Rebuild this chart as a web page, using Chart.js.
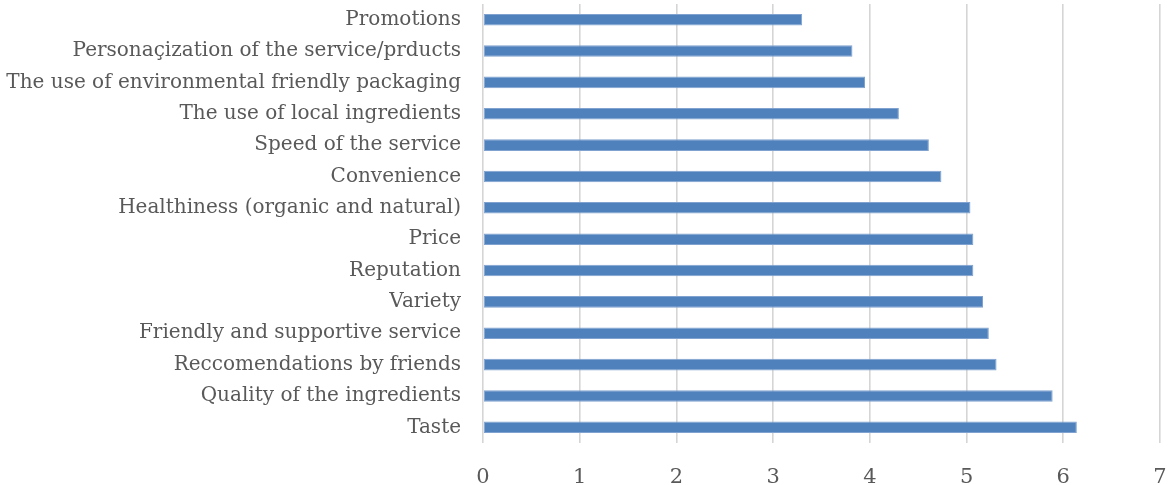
<!DOCTYPE html>
<html>
<head>
<meta charset="utf-8">
<script src="https://cdn.jsdelivr.net/npm/chart.js@4/dist/chart.umd.min.js"></script>
<style>
  html, body { margin: 0; padding: 0; background: #fff; overflow: hidden; }
  canvas { display: block; }
</style>
</head>
<body>
<canvas id="myChart" width="1168" height="485"></canvas>
<script>
const factors = [
  'Promotions',
  'Personaçization of the service/prducts',
  'The use of environmental friendly packaging',
  'The use of local ingredients',
  'Speed of the service',
  'Convenience',
  'Healthiness (organic and natural)',
  'Price',
  'Reputation',
  'Variety',
  'Friendly and supportive service',
  'Reccomendations by friends',
  'Quality of the ingredients',
  'Taste'
];
const scores = [3.30, 3.82, 3.95, 4.30, 4.61, 4.74, 5.04, 5.07, 5.07, 5.17, 5.23, 5.31, 5.89, 6.14];
const xTicks = [0, 1, 2, 3, 4, 5, 6, 7];

const ctx = document.getElementById('myChart').getContext('2d');
const myChart = new Chart(ctx, {
  type: 'bar',
  data: {
    labels: factors,
    datasets: [{
      data: scores,
      backgroundColor: '#4F81BD',
      borderColor: '#7FA2D0',
      borderWidth: 1,
      borderSkipped: false,
      barPercentage: 0.37,
      categoryPercentage: 1
    }]
  },
  options: {
    indexAxis: 'y',
    responsive: false,
    animation: false,
    layout: { padding: { top: 4, right: 8, left: 0, bottom: 0 } },
    plugins: {
      legend: { display: false },
      tooltip: { enabled: false }
    },
    scales: {
      x: {
        min: 0,
        max: 7,
        afterBuildTicks: function(scale) {
          scale.ticks = xTicks.map(v => ({ value: v }));
        },
        // fixed axis band, no extra edge padding
        afterFit: function(scale) {
          scale.height = 42;
          scale.paddingLeft = 0;
          scale.paddingRight = 0;
        },
        grid: { color: '#d5d5d5', lineWidth: 1.6, drawTicks: false },
        border: { display: false },
        ticks: {
          color: '#595959',
          font: { family: 'DejaVu Serif', size: 21 },
          padding: 22
        }
      },
      y: {
        afterFit: function(scale) {
          scale.width = 483;
          scale.paddingTop = 0;
          scale.paddingBottom = 0;
        },
        grid: { display: false, drawTicks: false },
        border: { display: false },
        ticks: {
          color: '#595959',
          font: { family: 'DejaVu Serif', size: 20 },
          padding: 22,
          autoSkip: false
        }
      }
    }
  }
});
</script>
</body>
</html>
